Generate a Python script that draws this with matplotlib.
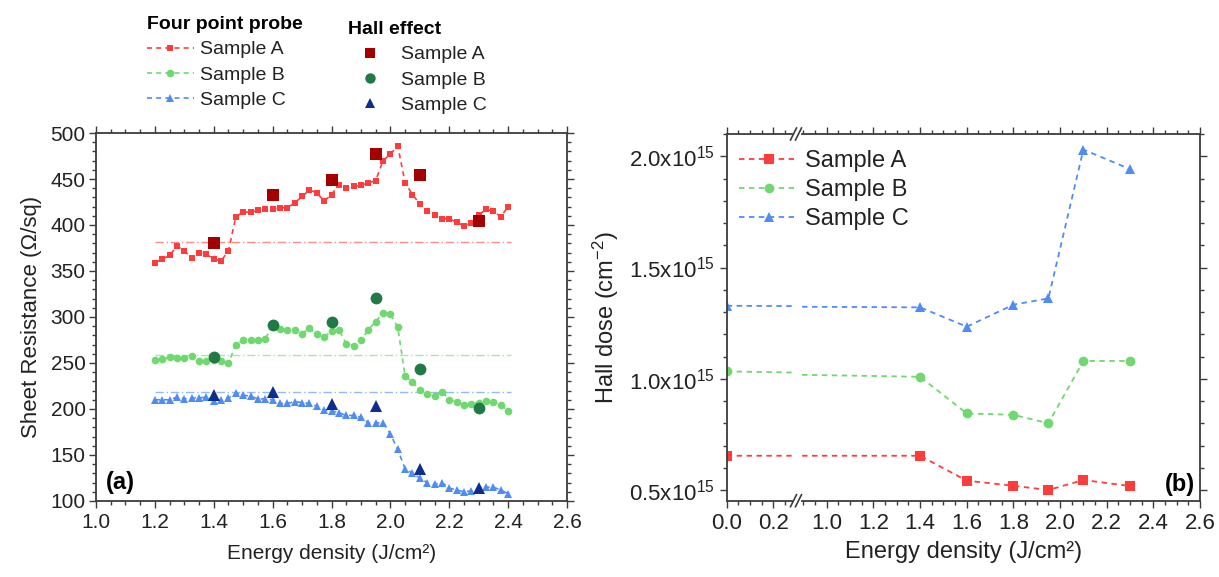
import matplotlib
matplotlib.use("Agg")
import matplotlib.pyplot as plt
from matplotlib.lines import Line2D
from matplotlib.ticker import MultipleLocator, FormatStrFormatter

plt.rcParams["font.family"] = ["Liberation Sans", "DejaVu Sans"]
plt.rcParams["mathtext.default"] = "regular"

# ---- panel (a): sheet resistance vs energy density ----
energy_fpp = [1.200, 1.225, 1.250, 1.275, 1.300, 1.325, 1.350, 1.375, 1.400, 1.425,
              1.450, 1.475, 1.500, 1.525, 1.550, 1.575, 1.600, 1.625, 1.650, 1.675,
              1.700, 1.725, 1.750, 1.775, 1.800, 1.825, 1.850, 1.875, 1.900, 1.925,
              1.950, 1.975, 2.000, 2.025, 2.050, 2.075, 2.100, 2.125, 2.150, 2.175,
              2.200, 2.225, 2.250, 2.275, 2.300, 2.325, 2.350, 2.375, 2.400]
rs_fpp_a = [359, 363, 367, 377, 372, 364, 370, 368, 363, 361,
            372, 409, 414, 414, 416, 417, 417, 419, 419, 424,
            431, 438, 435, 426, 433, 444, 440, 442, 443, 446,
            448, 470, 477, 486, 446, 433, 423, 415, 411, 407,
            407, 403, 399, 402, 411, 417, 415, 409, 420]
rs_fpp_b = [253, 254, 256, 255, 255, 258, 252, 252, 253, 252,
            250, 270, 275, 275, 275, 276, 291, 287, 286, 286,
            282, 288, 281, 278, 285, 286, 271, 269, 275, 286,
            295, 304, 303, 289, 236, 229, 221, 216, 214, 219,
            210, 208, 204, 205, 207, 209, 208, 204, 198]
rs_fpp_c = [210, 210, 210, 213, 211, 212, 212, 213, 209, 210,
            212, 217, 215, 214, 211, 211, 210, 206, 206, 208,
            207, 206, 203, 199, 198, 196, 193, 193, 191, 185,
            185, 185, 173, 156, 135, 130, 125, 120, 118, 120,
            114, 112, 110, 111, 112, 115, 115, 112, 108]

energy_hall_rs = [1.4, 1.6, 1.8, 1.95, 2.1, 2.3]
rs_hall_a = [380, 433, 449, 477, 454, 404]
rs_hall_b = [257, 291, 295, 321, 243, 201]
rs_hall_c = [215, 219, 205, 203, 135, 114]

ref_levels = [381, 259, 218]
ref_span = [1.2, 2.41]

# ---- panel (b): Hall dose (x1e15 cm^-2) ----
energy_dose = [0.0, 1.4, 1.6, 1.8, 1.95, 2.1, 2.3]
dose_a = [0.654, 0.654, 0.542, 0.519, 0.500, 0.545, 0.518]
dose_b = [1.033, 1.009, 0.844, 0.838, 0.800, 1.080, 1.080]
dose_c = [1.328, 1.321, 1.234, 1.333, 1.361, 2.030, 1.942]

labels = ["Sample A", "Sample B", "Sample C"]
light = ["#ff3c3c", "#6fd86f", "#4f8cf5"]
dark = ["#a30000", "#1f7a45", "#0d2e8c"]
markers = ["s", "o", "^"]
fpp_ms = [5, 5.5, 6]
hall_ms = [8.5, 8.5, 8.5]
axis_color = "#3c3c3c"
text_color = "#222222"

W, H = 1219, 577
fig = plt.figure(figsize=(W / 100, H / 100), dpi=100)


def style_axes(ax):
    for sp in ax.spines.values():
        sp.set_color(axis_color)
        sp.set_linewidth(1.3)
    ax.tick_params(which="both", direction="out", top=True, right=True,
                   color=axis_color, width=1.0, labelsize=15, labelcolor=text_color)
    ax.tick_params(which="major", length=5)
    ax.tick_params(which="minor", length=3)


# panel (a)
ax = fig.add_axes([96 / W, 76 / H, 471 / W, 368 / H])
style_axes(ax)
rs_fpp = [rs_fpp_a, rs_fpp_b, rs_fpp_c]
rs_hall = [rs_hall_a, rs_hall_b, rs_hall_c]
for k in range(3):
    ax.plot(ref_span, [ref_levels[k], ref_levels[k]], color=light[k], lw=1.0,
            alpha=0.6, dashes=(6, 2, 1, 2))
for k in range(3):
    ax.plot(energy_fpp, rs_fpp[k], ls="--", dashes=(3, 2.5), lw=1.2, color=light[k],
            marker=markers[k], ms=fpp_ms[k], mew=0)
for k in range(3):
    ax.plot(energy_hall_rs, rs_hall[k], ls="none", color=dark[k],
            marker=markers[k], ms=hall_ms[k], mew=0)
ax.set_xlim(1.0, 2.6)
ax.set_ylim(100, 500)
ax.xaxis.set_major_locator(MultipleLocator(0.2))
ax.xaxis.set_minor_locator(MultipleLocator(0.05))
ax.xaxis.set_major_formatter(FormatStrFormatter("%.1f"))
ax.yaxis.set_major_locator(MultipleLocator(50))
ax.yaxis.set_minor_locator(MultipleLocator(10))
ax.tick_params(axis="y", pad=2.5)
ax.set_xlabel("Energy density (J/cm²)", fontsize=15, color=text_color, labelpad=9)
ax.set_ylabel("Sheet Resistance (Ω/sq)", fontsize=16, color=text_color, labelpad=6)
ax.text(0.02, 0.02, "(a)", transform=ax.transAxes, fontsize=17, fontweight="bold",
        ha="left", va="bottom")

# legends above (a)
fpp_handles = [Line2D([], [], ls="--", dashes=(3, 2.5), lw=1.2, color=light[k],
                      marker=markers[k], ms=fpp_ms[k], mew=0) for k in range(3)]
hall_handles = [Line2D([], [], ls="none", color=dark[k], marker=markers[k],
                       ms=7.5, mew=0) for k in range(3)]
common = dict(loc="upper left", frameon=False, fontsize=14, alignment="left",
              borderpad=0, borderaxespad=0, labelspacing=0.4, labelcolor=text_color)
fig.legend(fpp_handles, labels, bbox_to_anchor=(147 / W, 1 - 16 / H),
           title="Four point probe", title_fontproperties={"weight": "bold", "size": 14},
           handlelength=2.4, handletextpad=0.3, **common)
fig.legend(hall_handles, labels, bbox_to_anchor=(348 / W, 1 - 21 / H),
           title="Hall effect", title_fontproperties={"weight": "bold", "size": 14},
           handlelength=2.3, handletextpad=0.4, **common)

# panel (b) with broken x axis
bot, hgt = 76.3 / H, 366.7 / H
ax1 = fig.add_axes([726.7 / W, bot, 65.3 / W, hgt])
ax2 = fig.add_axes([802 / W, bot, 398 / W, hgt])
doses = [dose_a, dose_b, dose_c]
for a in (ax1, ax2):
    style_axes(a)
    for k in range(3):
        a.plot(energy_dose, doses[k], ls="--", dashes=(3, 2.5), lw=1.3, color=light[k],
               marker=markers[k], ms=7, mew=0)
    a.set_ylim(0.452, 2.1)
    a.yaxis.set_major_locator(MultipleLocator(0.5))
    a.yaxis.set_minor_locator(MultipleLocator(0.1))
    a.xaxis.set_major_locator(MultipleLocator(0.2))
    a.xaxis.set_minor_locator(MultipleLocator(0.05))
    a.xaxis.set_major_formatter(FormatStrFormatter("%.1f"))
ax1.set_xlim(0, 0.28)
ax2.set_xlim(0.8937, 2.6)
ax1.spines["right"].set_visible(False)
ax2.spines["left"].set_visible(False)
ax1.tick_params(which="both", right=False)
ax2.tick_params(which="both", left=False, labelleft=False)
ax1.set_yticks([0.5, 1.0, 1.5, 2.0])
ax1.set_yticklabels(["0.5x10$^{15}$", "1.0x10$^{15}$", "1.5x10$^{15}$", "2.0x10$^{15}$"])
ax1.tick_params(labelsize=16)
ax2.tick_params(labelsize=16)
ax1.set_ylabel("Hall dose (cm$^{-2}$)", fontsize=17, color=text_color, labelpad=6)
ax2.set_xlabel("Energy density (J/cm²)", fontsize=17, color=text_color, labelpad=8)
ax2.xaxis.set_label_coords(0.405, -0.11)
ax2.text(0.987, 0.012, "(b)", transform=ax2.transAxes, fontsize=17, fontweight="bold",
         ha="right", va="bottom")

# break marks on top and bottom spines
for ypix in (134, 500.7):
    for dx in (-3.5, 1.5):
        x0 = 797 + dx
        fig.add_artist(Line2D([(x0 - 3) / W, (x0 + 3) / W],
                              [1 - (ypix + 6) / H, 1 - (ypix - 6) / H],
                              color=axis_color, lw=1.2))

dose_handles = [Line2D([], [], ls="--", dashes=(3, 2.5), lw=1.3, color=light[k],
                       marker=markers[k], ms=7, mew=0) for k in range(3)]
fig.legend(dose_handles, labels, loc="upper left", bbox_to_anchor=(739 / W, 1 - 150 / H),
           frameon=False, fontsize=17, borderpad=0, borderaxespad=0, labelcolor=text_color,
           handlelength=2.5, handletextpad=0.3, labelspacing=0.3)

fig.savefig("out.png", dpi=100)
